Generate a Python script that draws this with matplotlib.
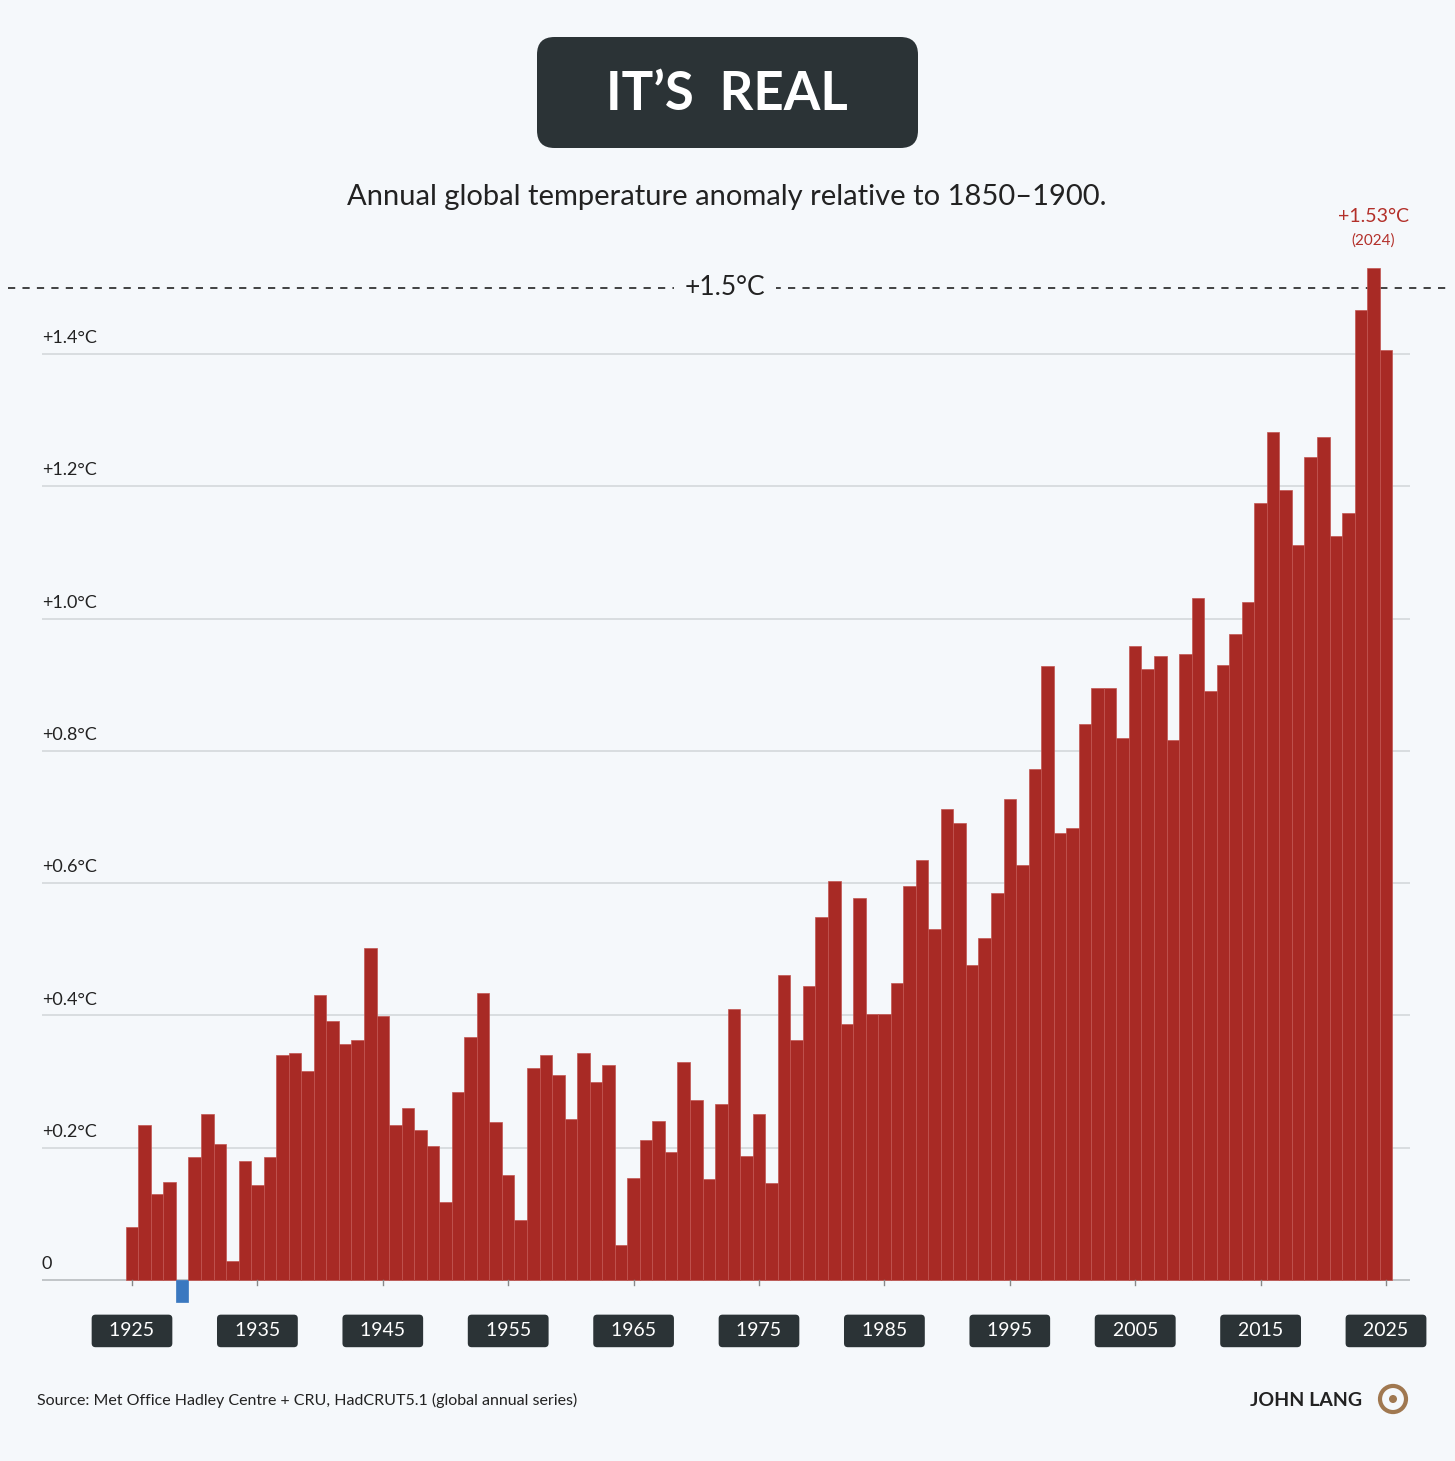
import matplotlib.pyplot as plt
from matplotlib.patches import FancyBboxPatch, Circle

years = list(range(1925, 2026))
anomaly = [
    0.08, 0.234, 0.13, 0.148, -0.033, 0.186, 0.251, 0.206, 0.029, 0.18,
    0.144, 0.186, 0.34, 0.343, 0.316, 0.431, 0.392, 0.357, 0.363, 0.502,
    0.399, 0.234, 0.26, 0.227, 0.203, 0.118, 0.284, 0.367, 0.434, 0.239,
    0.159, 0.091, 0.32, 0.34, 0.31, 0.243, 0.343, 0.299, 0.325, 0.053,
    0.154, 0.212, 0.24, 0.194, 0.33, 0.272, 0.153, 0.266, 0.41, 0.187,
    0.251, 0.147, 0.461, 0.363, 0.444, 0.549, 0.603, 0.387, 0.578, 0.402,
    0.402, 0.449, 0.596, 0.635, 0.531, 0.712, 0.691, 0.476, 0.517, 0.585,
    0.727, 0.627, 0.773, 0.928, 0.676, 0.683, 0.841, 0.895, 0.895, 0.819,
    0.959, 0.924, 0.943, 0.816, 0.946, 1.031, 0.89, 0.93, 0.977, 1.025,
    1.175, 1.282, 1.194, 1.111, 1.244, 1.275, 1.125, 1.16, 1.467, 1.53,
    1.406,
]
ytick_vals = [0, 0.2, 0.4, 0.6, 0.8, 1.0, 1.2, 1.4]
ytick_labels = ['0', '+0.2°C', '+0.4°C', '+0.6°C', '+0.8°C', '+1.0°C', '+1.2°C', '+1.4°C']
xtick_years = list(range(1925, 2026, 10))

plt.rcParams['font.family'] = ['Lato', 'DejaVu Sans']
bg = '#f5f8fb'
W, H = 1455, 1461
fig = plt.figure(figsize=(W / 100, H / 100), dpi=100, facecolor=bg)

# axes placed in pixel terms
px_per_val = 661.4
y0_px = 1280
top_px, bot_px = 250, 1310
ax = fig.add_axes([42 / W, (H - bot_px) / H, 1368 / W, (bot_px - top_px) / H])
ax.set_facecolor('none')
ax.set_ylim((y0_px - bot_px) / px_per_val, (y0_px - top_px) / px_per_val)
ax.set_xlim(1925 - 90 / 12.54, 2025 + 24 / 12.54)
for s in ax.spines.values():
    s.set_visible(False)
ax.set_xticks([])
ax.set_yticks([])

for v, lab in zip(ytick_vals, ytick_labels):
    ax.axhline(v, color='#d4d8db' if v else '#b8bcc0', lw=1.2, zorder=0)
    ax.text(0.0, v + 0.012, lab, transform=ax.get_yaxis_transform(),
            fontsize=13, color='#222222', va='bottom', ha='left')

colors = ['#a82a25' if a >= 0 else '#3a78c0' for a in anomaly]
edges = ['#c25550' if a >= 0 else '#3a78c0' for a in anomaly]
ax.bar(years, anomaly, width=1.0, color=colors, edgecolor=edges, linewidth=0.5, zorder=2)

# 1.5 line
ax.axhline(1.5, xmin=-0.025, xmax=1.03, color='#333333', ls=(0, (4, 4)), lw=1.3, clip_on=False, zorder=1)
ax.text(1972.3, 1.5, '+1.5°C', ha='center', va='center', fontsize=19, color='#222222',
        bbox=dict(boxstyle='square,pad=0.4', fc=bg, ec='none'), zorder=3)

# peak annotation
ax.text(2024, 1.53 + 0.065, '+1.53°C', ha='center', va='bottom', fontsize=14, color='#b3302a')
ax.text(2024, 1.53 + 0.03, '(2024)', ha='center', va='bottom', fontsize=11, color='#b3302a')

# decade labels
for yr in xtick_years:
    ax.plot([yr, yr], [0, -0.008], color='#888888', lw=1, clip_on=False)
    ax.text(yr, -0.077, '  ' + str(yr) + '  ', ha='center', va='center', fontsize=14, color='white',
            bbox=dict(boxstyle='round,pad=0.4,rounding_size=0.2', fc='#2b3336', ec='none'))

# title box
fig.add_artist(FancyBboxPatch((537 / W, 1 - 148 / H), 381 / W, 111 / H,
                              boxstyle='round,pad=0,rounding_size=0.012',
                              transform=fig.transFigure, fc='#2b3336', ec='none'))
fig.text(727 / W, 1 - 94 / H, 'IT’S  REAL', ha='center', va='center', fontsize=38,
         color='white', fontweight='bold')
fig.text(727 / W, 1 - 197 / H, 'Annual global temperature anomaly relative to 1850–1900.',
         ha='center', va='center', fontsize=21, color='#222222')

fig.text(37 / W, 1 - 1400 / H, 'Source: Met Office Hadley Centre + CRU, HadCRUT5.1 (global annual series)',
         ha='left', va='center', fontsize=11.5, color='#222222')
fig.text(1362 / W, 1 - 1400 / H, 'JOHN LANG', ha='right', va='center', fontsize=14,
         color='#222222', fontweight='bold')
fig.add_artist(Circle((1393 / W, 1 - 1399 / H), 13 / W, transform=fig.transFigure,
                      fc='none', ec='#a07850', lw=3))
fig.add_artist(Circle((1393 / W, 1 - 1399 / H), 4 / W, transform=fig.transFigure,
                      fc='#a07850', ec='none'))

fig.savefig('out.png', dpi=100, facecolor=bg)
